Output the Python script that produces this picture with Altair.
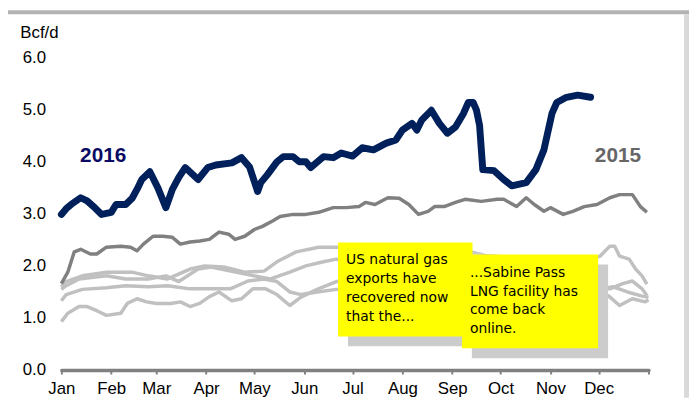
import altair as alt
import pandas as pd

# ---------------- data ----------------
months = ["Jan", "Feb", "Mar", "Apr", "May", "Jun", "Jul", "Aug", "Sep", "Oct", "Nov", "Dec"]
month_start_days = [0, 31, 59, 90, 120, 151, 181, 212, 243, 273, 304, 334, 365]
y_ticks = [0, 1, 2, 3, 4, 5, 6]

days_2016 = [0, 3, 6, 12, 16, 20, 25, 31, 34, 40, 44, 47, 50, 55, 60, 65, 69, 73, 77, 85,
             91, 96, 106, 112, 117, 122, 124, 128, 134, 138, 144, 148, 152, 155, 163, 169, 174, 181, 187, 194,
             202, 208, 212, 218, 221, 224, 230, 235, 240, 245, 250, 253, 256, 258, 260, 262, 269, 275, 280, 289,
             295, 300, 305, 308, 314, 321, 329]
vals_2016 = [2.99, 3.10, 3.18, 3.31, 3.25, 3.14, 2.99, 3.03, 3.18, 3.18, 3.30, 3.47, 3.66, 3.81, 3.50, 3.12, 3.47, 3.70, 3.89, 3.66,
             3.89, 3.94, 3.98, 4.08, 3.90, 3.43, 3.60, 3.75, 4.00, 4.10, 4.10, 4.00, 4.00, 3.89, 4.10, 4.08, 4.17, 4.11, 4.27, 4.23,
             4.36, 4.42, 4.61, 4.74, 4.61, 4.80, 4.99, 4.74, 4.55, 4.67, 4.93, 5.14, 5.14, 5.00, 4.70, 3.85, 3.83, 3.66, 3.54, 3.60,
             3.85, 4.23, 4.93, 5.14, 5.24, 5.28, 5.24]

days_2015 = [0, 4, 8, 12, 18, 22, 28, 37, 43, 47, 51, 57, 63, 69, 74, 80, 86, 92, 98, 104,
             108, 114, 120, 125, 131, 136, 144, 152, 160, 169, 177, 185, 189, 195, 203, 210, 216, 222, 228, 232,
             238, 245, 251, 261, 271, 275, 283, 289, 294, 300, 304, 312, 318, 325, 333, 341, 347, 355, 360, 364]
vals_2015 = [1.66, 1.88, 2.27, 2.32, 2.23, 2.23, 2.36, 2.38, 2.36, 2.29, 2.42, 2.57, 2.57, 2.55, 2.42, 2.46, 2.48, 2.51, 2.65, 2.61,
             2.51, 2.57, 2.70, 2.76, 2.86, 2.95, 2.99, 2.99, 3.03, 3.12, 3.12, 3.14, 3.22, 3.18, 3.31, 3.30, 3.18, 2.99, 3.05, 3.14,
             3.14, 3.22, 3.28, 3.24, 3.28, 3.28, 3.14, 3.31, 3.18, 3.05, 3.12, 2.99, 3.05, 3.14, 3.18, 3.31, 3.37, 3.37, 3.14, 3.03]

days_a = [0, 3, 13, 28, 44, 54, 66, 80, 89, 101, 114, 126, 134, 146, 160, 171, 195, 220, 251, 263,
          288, 312, 331, 335, 341, 344, 347, 353, 357, 361, 364]
vals_a = [1.60, 1.70, 1.81, 1.88, 1.88, 1.81, 1.75, 1.94, 2.00, 1.98, 1.88, 1.90, 2.08, 2.27, 2.36, 2.36, 2.38, 2.33, 2.30, 2.20,
          2.15, 2.05, 2.15, 2.19, 2.38, 2.38, 2.19, 2.13, 1.94, 1.81, 1.65]

days_b = [0, 3, 11, 28, 40, 54, 65, 73, 85, 93, 109, 120, 130, 142, 152, 163, 171, 195, 226, 257,
          294, 331, 341, 349, 355, 361, 364]
vals_b = [1.55, 1.62, 1.75, 1.81, 1.75, 1.75, 1.81, 1.70, 1.94, 1.98, 1.88, 1.81, 1.75, 1.88, 2.00, 2.08, 2.13, 2.00, 1.90, 1.80,
          1.70, 1.60, 1.56, 1.66, 1.71, 1.56, 1.43]

days_c = [0, 3, 13, 28, 40, 54, 66, 80, 93, 105, 116, 126, 134, 142, 149, 159, 171, 208, 257, 306,
          331, 340, 347, 355, 363, 365]
vals_c = [1.33, 1.45, 1.55, 1.58, 1.62, 1.60, 1.62, 1.56, 1.56, 1.56, 1.71, 1.75, 1.70, 1.50, 1.45, 1.50, 1.55, 1.60, 1.50, 1.45,
          1.45, 1.43, 1.24, 1.37, 1.31, 1.35]

days_d = [0, 4, 11, 16, 22, 28, 37, 41, 47, 53, 59, 68, 74, 80, 86, 92, 98, 106, 112, 119,
          127, 134, 142, 149, 159, 171, 208, 257, 306, 334, 343, 352, 361, 365]
vals_d = [0.93, 1.09, 1.22, 1.22, 1.14, 1.05, 1.09, 1.28, 1.37, 1.31, 1.28, 1.28, 1.31, 1.22, 1.28, 1.41, 1.50, 1.33, 1.37, 1.56,
          1.56, 1.45, 1.24, 1.40, 1.55, 1.70, 1.80, 1.85, 1.75, 1.55, 1.60, 1.50, 1.42, 1.40]

series_labels = ["2016", "2015"]
label_days = [26, 346]
label_values = [4.12, 4.11]
label_colors = ["#0b0b66", "#666666"]

note_texts = ["US natural gas\nexports have\nrecovered now\nthat the...",
              "...Sabine Pass\nLNG facility has\ncome back\nonline."]
note_days = [177, 254]
note_values = [2.03, 1.79]
box_x0 = [172, 249]
box_x1 = [255.6, 333.7]
box_y0 = [0.646, 0.418]
box_y1 = [2.45, 2.22]
shadow_dx = 6.2
shadow_dy = 0.19

# ---------------- build ----------------
def sdf(name, d, v):
    return pd.DataFrame({"day": d, "value": v, "series": name})

light_df = pd.concat([sdf("a", days_a, vals_a), sdf("b", days_b, vals_b),
                      sdf("c", days_c, vals_c), sdf("d", days_d, vals_d)])
df15 = sdf("2015", days_2015, vals_2015)
df16 = sdf("2016", days_2016, vals_2016)

x_scale = alt.Scale(domain=[0, 365], nice=False, zero=False)
y_scale = alt.Scale(domain=[0, 6], nice=False)

label_expr = ("[" + ",".join("'%s'" % m for m in months + [""]) + "][indexof(["
              + ",".join(str(d) for d in month_start_days) + "], datum.value)]")

FONT = "Liberation Sans"

x_axis = alt.Axis(values=month_start_days, labelExpr=label_expr, grid=False,
                  domainColor="#808080", domainWidth=3.5, domainCap="round",
                  tickColor="#808080", tickWidth=2, tickSize=4, labelPadding=7,
                  labelFontSize=17, labelColor="black", labelFont=FONT,
                  labelFlush=False, labelOverlap=False, title=None)
y_axis = alt.Axis(values=y_ticks, format=".1f", grid=False, domain=False, ticks=False,
                  tickSize=0, labelPadding=16, labelFontSize=17, labelColor="black",
                  labelFont=FONT, title="Bcf/d", titleAngle=0, titleAlign="left",
                  titleBaseline="middle", titleX=-42, titleY=-25, titleFontWeight="normal",
                  titleFontSize=17, titleFont=FONT, titleColor="black")


def X(field):
    return alt.X(field, scale=x_scale, axis=x_axis)


def Y(field):
    return alt.Y(field, scale=y_scale, axis=y_axis)


light = alt.Chart(light_df).mark_line(color="#c0c0c0", strokeWidth=3.5, strokeJoin="round").encode(
    x=X("day:Q"), y=Y("value:Q"), detail="series:N")
line15 = alt.Chart(df15).mark_line(color="#808080", strokeWidth=3.5, strokeJoin="round").encode(
    x=X("day:Q"), y=Y("value:Q"))
line16 = alt.Chart(df16).mark_line(color="#00205b", strokeWidth=7, strokeJoin="round", strokeCap="round").encode(
    x=X("day:Q"), y=Y("value:Q"))

lab_df = pd.DataFrame({"day": label_days, "value": label_values, "label": series_labels, "color": label_colors})
labels = alt.Chart(lab_df).mark_text(fontSize=21, fontWeight="bold", font=FONT, align="center", baseline="middle").encode(
    x=X("day:Q"), y=Y("value:Q"), text="label:N", color=alt.Color("color:N", scale=None))

# boxes: shadow1, box1, shadow2, box2
rows = []
for i in range(2):
    rows.append({"x0": box_x0[i] + shadow_dx, "x1": box_x1[i] + shadow_dx,
                 "y0": box_y0[i] - shadow_dy, "y1": box_y1[i] - shadow_dy, "fill": "#cccccc", "o": 2 * i})
    rows.append({"x0": box_x0[i], "x1": box_x1[i], "y0": box_y0[i], "y1": box_y1[i], "fill": "#ffff00", "o": 2 * i + 1})
box_df = pd.DataFrame(rows)
boxes = alt.Chart(box_df).mark_rect().encode(
    x=X("x0:Q"), x2="x1:Q", y=Y("y0:Q"), y2="y1:Q",
    fill=alt.Fill("fill:N", scale=None), order="o:Q")

note_df = pd.DataFrame({"day": note_days, "value": note_values, "text": note_texts})
notes = alt.Chart(note_df).mark_text(font="Comic Sans MS, DejaVu Sans", fontSize=14, align="left",
                                     baseline="alphabetic", lineBreak="\n", lineHeight=19, color="black").encode(
    x=X("day:Q"), y=Y("value:Q"), text="text:N")

frame_df = pd.DataFrame({"k": [0]})
top_band = alt.Chart(frame_df).mark_rect(color="#b3b3b3").encode(
    x=alt.value(-54), x2=alt.value(635), y=alt.value(-48), y2=alt.value(-44))
right_band = alt.Chart(frame_df).mark_rect(color="#d9d9d9").encode(
    x=alt.value(630), x2=alt.value(635), y=alt.value(-44), y2=alt.value(344))

chart = alt.layer(light, line15, line16, labels, boxes, notes, top_band, right_band).properties(
    width=594, height=316,
    autosize=alt.AutoSizeParams(type="none"),
    padding={"left": 54, "top": 48, "right": 41, "bottom": 28},
    background="white",
).configure_view(stroke=None)

chart.save("out.html", embed_options={"renderer": "svg", "actions": False})
